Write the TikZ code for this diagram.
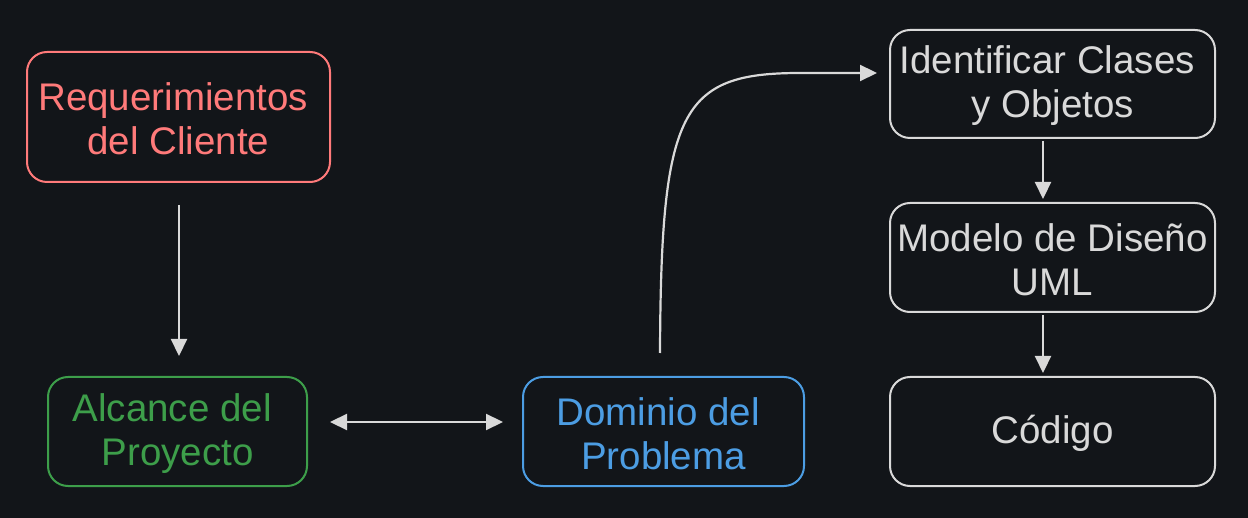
\documentclass[tikz,border=0pt]{standalone}
\usepackage{fontspec}
\setmainfont{Liberation Sans}
\usetikzlibrary{arrows.meta}
\definecolor{bg}{HTML}{121519}
\definecolor{redc}{HTML}{FF7A7A}
\definecolor{greenc}{HTML}{3D9E4A}
\definecolor{bluec}{HTML}{4C9DE3}
\definecolor{grayc}{HTML}{D9D9D9}
\newcommand{\tsp}{\kern0.278em}
\tikzset{
  box/.style={draw, line width=2pt, rounded corners=20pt, inner sep=0pt},
  lbl/.style={inner sep=0pt, align=center, font=\fontsize{38.5}{44}\selectfont, yshift=-2pt},
  conn/.style={draw=grayc, line width=2.2pt, -{Triangle[length=17pt,width=16pt]}},
  dconn/.style={draw=grayc, line width=2.2pt, {Triangle[length=17pt,width=16pt]}-{Triangle[length=17pt,width=16pt]}},
}
\begin{document}
\begin{tikzpicture}[x=1pt,y=-1pt]
\fill[bg] (0,0) rectangle (1248,518);
\useasboundingbox (0,0) rectangle (1248,518);
\node[box, draw=redc, minimum width=303pt, minimum height=130pt] (req) at (178.5,117) {};
\node[lbl, text=redc] (reqt) at (req.center) {Requerimientos\tsp\\del Cliente};
\node[box, draw=greenc, minimum width=259pt, minimum height=109pt] (alc) at (177.5,431.5) {};
\node[lbl, text=greenc] (alct) at (alc.center) {Alcance del\tsp\\Proyecto};
\node[box, draw=bluec, minimum width=281pt, minimum height=109pt] (dom) at (663.5,431.5) {};
\node[lbl, text=bluec] (domt) at (dom.center) {Dominio del\tsp\\Problema};
\node[box, draw=grayc, minimum width=325pt, minimum height=108pt] (idc) at (1052.5,84) {};
\node[lbl, text=grayc] (idct) at (idc.center) {Identificar Clases\tsp\\y Objetos};
\node[box, draw=grayc, minimum width=325pt, minimum height=109pt] (mod) at (1052.5,257.5) {};
\node[lbl, text=grayc] (modt) at (mod.center) {Modelo de Diseño\\UML};
\node[box, draw=grayc, minimum width=325pt, minimum height=109pt] (cod) at (1052.5,431.5) {};
\node[lbl, text=grayc] (codt) at (cod.center) {Código};
\draw[conn] ([xshift=0.5pt,yshift=-22pt]req.south) -- ([xshift=1.5pt,yshift=20pt]alc.north);
\draw[dconn] ([xshift=22pt,yshift=9.5pt]alc.east) -- ([xshift=-19pt,yshift=9.5pt]dom.west);
\coordinate (cs) at ([xshift=-3.5pt,yshift=23pt]dom.north);
\draw[conn] (cs) .. controls (661,110) and (680,73) .. (800,73) -- ([xshift=-12pt,yshift=11pt]idc.west);
\draw[conn] ([xshift=-9.5pt,yshift=-2pt]idc.south) -- ([xshift=-9.5pt,yshift=3pt]mod.north);
\draw[conn] ([xshift=-9.5pt,yshift=-2pt]mod.south) -- ([xshift=-9.5pt,yshift=3pt]cod.north);
\end{tikzpicture}
\end{document}
